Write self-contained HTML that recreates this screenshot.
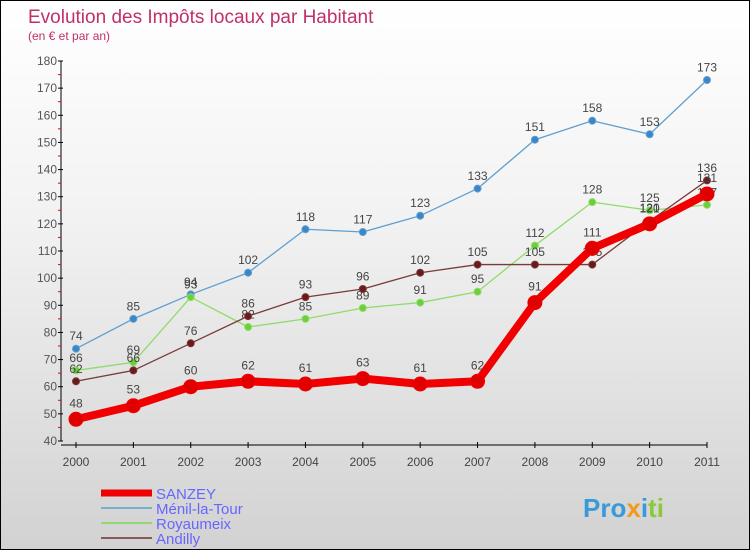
<!DOCTYPE html>
<html><head><meta charset="utf-8"><style>
body{margin:0}
#c{width:750px;height:550px;position:relative;box-sizing:border-box;border:1px solid #000;background:linear-gradient(#ffffff,#f2f2f2 40%,#d2d2d2);font-family:"Liberation Sans",sans-serif;overflow:hidden}
</style></head><body>
<div id="c">
<svg id="s" width="750" height="550"></svg>
</div>
<script>
const years=["2000","2001","2002","2003","2004","2005","2006","2007","2008","2009","2010","2011"];
const sanzey=[48,53,60,62,61,63,61,62,91,111,120,131];
const menil=[74,85,94,102,118,117,123,133,151,158,153,173];
const royaumeix=[66,69,93,82,85,89,91,95,112,128,125,127];
const andilly=[62,66,76,86,93,96,102,105,105,105,121,136];
const yTicks=[40,50,60,70,80,90,100,110,120,130,140,150,160,170,180];
const NS="http://www.w3.org/2000/svg";
const s=document.getElementById('s');
const x=i=>75+i*(706-75)/11;
const y=v=>440-(v-40)*(380/140);
function el(t,a,p){const e=document.createElementNS(NS,t);for(const k in a)e.setAttribute(k,a[k]);(p||s).appendChild(e);return e;}
let t=el('text',{x:27,y:22,fill:'#c0306a','font-size':19});t.textContent='Evolution des Impôts locaux par Habitant';

t=el('text',{x:27,y:39,fill:'#c0306a','font-size':12});t.textContent='(en € et par an)';

// axes
let a=el('line',{x1:60,y1:60,x2:60,y2:440,stroke:'#000'});
a=el('line',{x1:60,y1:444,x2:706,y2:444,stroke:'#000'});
yTicks.forEach((v,i)=>{el('line',{x1:57,y1:y(v),x2:62,y2:y(v),stroke:'#000'});
 if(i<yTicks.length-1)el('line',{x1:57,y1:y(v+5),x2:60,y2:y(v+5),stroke:'#e00'});
 const tt=el('text',{x:56,y:y(v)+4,'text-anchor':'end','font-size':12,fill:'#555'});tt.textContent=v;
 });
years.forEach((yr,i)=>{el('line',{x1:x(i),y1:441,x2:x(i),y2:447,stroke:'#000'});
 const tt=el('text',{x:x(i),y:465,'text-anchor':'middle','font-size':12,fill:'#444'});tt.textContent=yr;
 });
function series(d,col,dot,w,r,name,fs){
 const g=el('g',{});
 el('polyline',{points:d.map((v,i)=>x(i)+','+y(v)).join(' '),fill:'none',stroke:col,'stroke-width':w,'stroke-linejoin':'round'},g);
 d.forEach((v,i)=>{const c=el('circle',{cx:x(i),cy:y(v),r:r,fill:dot,stroke:col,'stroke-width':1},g);
  
  const tt=el('text',{x:x(i),y:y(v)-(r+5),'text-anchor':'middle','font-size':fs,fill:'#444'},g);tt.textContent=v;
  });
}
series(menil,'#5f9fd0','#3a86c6',1.3,3.5,'menil',12);
series(royaumeix,'#8fdc6a','#6bcf3a',1.3,3.5,'royaumeix',12);
series(andilly,'#7a3a3a','#6a1a1a',1.3,3.5,'andilly',12);
series(sanzey,'#f00000','#e00000',8,7,'sanzey',12);
// legend
const leg=[['SANZEY','#f00000',7],['Ménil-la-Tour','#7aaed0',2],['Royaumeix','#94d874',2],['Andilly','#8a5a5a',2]];
leg.forEach((l,i)=>{const yy=492+i*15;
 const g=el('g',{});
 el('line',{x1:100,y1:yy,x2:151,y2:yy,stroke:l[1],'stroke-width':l[2]},g);
 const tt=el('text',{x:155,y:yy+6,'font-size':15,fill:'#6666ff'},g);tt.textContent=l[0];});
const lg=el('text',{x:582,y:516,'font-size':26,'font-weight':'bold',fill:'#3a9ad9'});
lg.innerHTML='<tspan fill="#3a9ad9">Pro</tspan><tspan fill="#f29a1a">x</tspan><tspan fill="#3a9ad9">i</tspan><tspan fill="#8bc83a">ti</tspan>';

</script>
</body></html>
